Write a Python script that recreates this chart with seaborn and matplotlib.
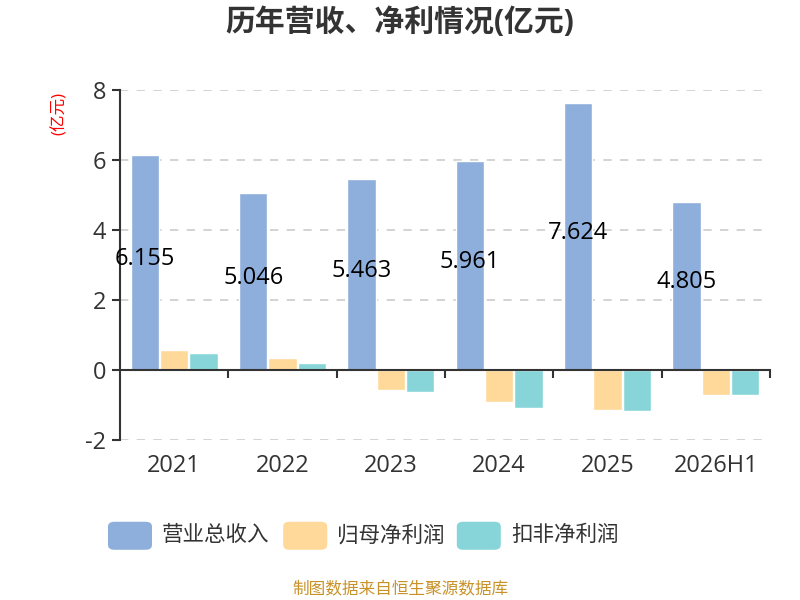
import numpy as np
import pandas as pd
import matplotlib
matplotlib.use("Agg")
import matplotlib.pyplot as plt
import matplotlib.transforms as mtransforms
from matplotlib.patches import FancyBboxPatch
import seaborn as sns

years = ["2021", "2022", "2023", "2024", "2025", "2026H1"]
series = ["营业总收入", "归母净利润", "扣非净利润"]
revenue = [6.155, 5.046, 5.463, 5.961, 7.624, 4.805]
net_profit = [0.57, 0.34, -0.56, -0.91, -1.14, -0.71]
deducted_profit = [0.48, 0.19, -0.63, -1.08, -1.17, -0.72]
colors = ["#8eaedb", "#ffd999", "#87d5d9"]

df = pd.DataFrame({"year": years * 3,
                   "kind": np.repeat(series, len(years)),
                   "value": revenue + net_profit + deducted_profit})

sns.set_theme(style="white")
plt.rcParams["font.family"] = ["Open Sans", "Noto Sans CJK SC", "DejaVu Sans"]
plt.rcParams["axes.unicode_minus"] = False

fig = plt.figure(figsize=(8, 6), dpi=100)
ax = fig.add_axes([0.15, 0.2667, 0.8125, 0.5833])

sns.barplot(data=df, x="year", y="value", hue="kind", palette=colors,
            width=0.81, gap=0.035, saturation=1, ax=ax, legend=False)

ax.set_ylim(-2, 8)
ax.set_xlim(-0.5, 5.5)
ax.set_yticks([-2, 0, 2, 4, 6, 8])
ax.tick_params(axis="y", labelsize=17, colors="#333333", length=6, width=1.5,
               left=True, pad=4)
for t in [-2, 2, 4, 6, 8]:
    ax.axhline(t, color="#cccccc", lw=1.2, ls=(0, (5, 5)), zorder=0)

for s in ["top", "right"]:
    ax.spines[s].set_visible(False)
ax.spines["left"].set_color("#333333")
ax.spines["left"].set_linewidth(1.5)
ax.spines["bottom"].set_position(("data", 0))
ax.spines["bottom"].set_color("#333333")
ax.spines["bottom"].set_linewidth(1.5)

ax.set_xticks(np.arange(0.5, 6, 1))
ax.set_xticklabels([])
ax.tick_params(axis="x", bottom=True, direction="out", length=6, width=1.5, colors="#333333")

trans = mtransforms.blended_transform_factory(ax.transData, ax.transAxes)
for i, y in enumerate(years):
    ax.text(i, -0.075, y, transform=trans, ha="center", va="center",
            fontsize=17, color="#333333")

# value labels on the revenue bars
bars = ax.containers[0]
for bar, v in zip(bars, revenue):
    ax.text(bar.get_x() + bar.get_width() / 2, v / 2 + 0.1, f"{v:.3f}",
            ha="center", va="center", fontsize=17, color="black")

ax.set_xlabel("")
ax.set_ylabel("")
fig.text(0.075, 0.81, "(亿元)", rotation=90, color="red", fontsize=12,
         ha="center", va="center")

fig.text(0.5, 0.962, "历年营收、净利情况(亿元)", ha="center", va="center",
         fontsize=21.5, fontweight="bold", color="#333333")

# legend with rounded swatches
lx = [0.135, 0.354, 0.571]
for x0, name, c in zip(lx, series, colors):
    fig.patches.append(FancyBboxPatch((x0, 0.107 - 0.0233), 0.055, 0.0467,
                                      boxstyle="round,pad=0,rounding_size=0.008",
                                      transform=fig.transFigure, color=c,
                                      ec="none"))
    fig.text(x0 + 0.0675, 0.107, name, ha="left", va="center",
             fontsize=15.5, color="#333333")

fig.text(0.5, 0.0167, "制图数据来自恒生聚源数据库", ha="center", va="center",
         fontsize=12, color="#c8922a")

fig.savefig("out.png", dpi=100)
